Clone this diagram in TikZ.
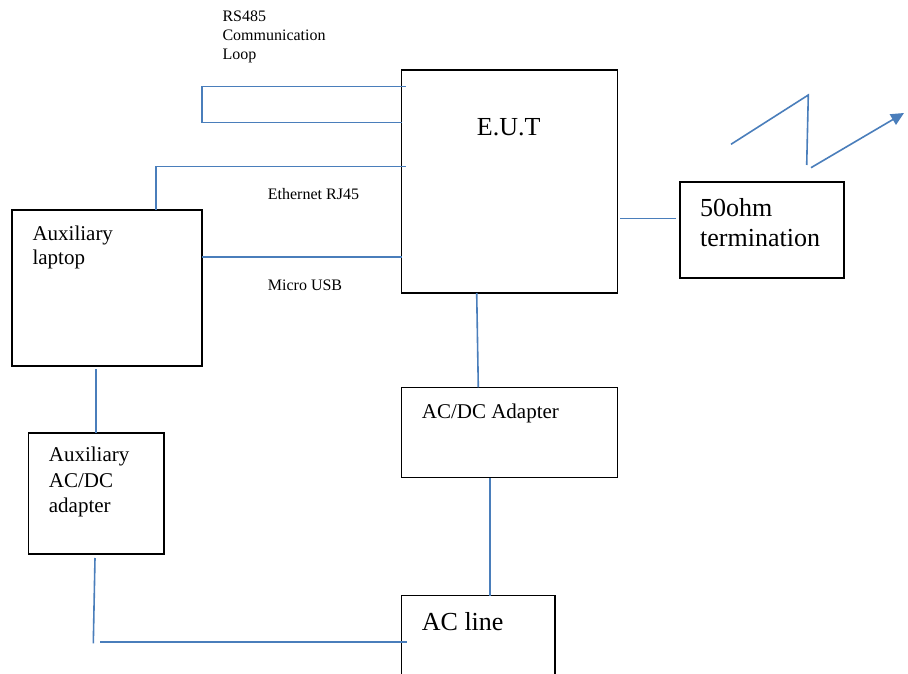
\documentclass[tikz,border=0pt]{standalone}
\usepackage{fontspec}
\setmainfont{Liberation Serif}
\usetikzlibrary{arrows.meta,calc}
\definecolor{wireblue}{HTML}{4A7EBB}
\begin{document}
\begin{tikzpicture}[x=1pt,y=-1pt,
  box/.style={draw=black, line width=1.1pt, anchor=north west, inner sep=0pt, outer sep=0pt},
  openbox/.style={anchor=north west, inner sep=0pt, outer sep=0pt},
  boxline/.style={draw=black, line width=1.1pt},
  wire/.style={draw=wireblue, line width=1.6pt},
  txtS/.style={inner sep=0pt, anchor=base west, font=\fontsize{16}{19}\selectfont},
  txtM/.style={inner sep=0pt, anchor=base west, font=\fontsize{21}{25}\selectfont},
  txtL/.style={inner sep=0pt, anchor=base west, font=\fontsize{26}{30}\selectfont}]
\useasboundingbox[fill=white] (0,0) rectangle (908,674);

% boxes
\node[box, minimum width=216pt, minimum height=223pt] (eut) at (401.5,70) {};
\node[box, minimum width=164pt, minimum height=96pt] (term) at (680,182) {};
\node[box, minimum width=190pt, minimum height=156pt] (lap) at (12,210) {};
\node[box, minimum width=135.5pt, minimum height=121pt] (aux) at (28.5,433) {};
\node[box, minimum width=216pt, minimum height=90.5pt] (acdc) at (401.5,387.3) {};
\node[openbox, minimum width=153.5pt, minimum height=80pt] (acl) at (401.5,595.7) {};
\draw[boxline] (acl.south west) -- (acl.north west) -- (acl.north east) -- (acl.south east);

% texts
\node[txtS] (rs1) at (222.3,21.7) {RS485};
\node[txtS] (rs2) at (222.3,40.5) {Communication};
\node[txtS] (rs3) at (222.3,59.3) {Loop};
\node[txtS] (eth) at (267.7,199.3) {Ethernet RJ45};
\node[txtS] (usb) at (267.7,290) {Micro USB};
\node[txtL] (eutt) at (476.7,136) {E.U.T};
\node[txtL] (term1) at (700,216.7) {50ohm};
\node[txtL] (term2) at (700,246.7) {termination};
\node[txtM] (lap1) at (32.3,240.7) {Auxiliary};
\node[txtM] (lap2) at (32.3,264) {laptop};
\node[txtM] (aux1) at (48.7,461.7) {Auxiliary};
\node[txtM] (aux2) at (48.7,487.3) {AC/DC};
\node[txtM] (aux3) at (48.7,512.7) {adapter};
\node[txtM] (acdct) at (421.7,418.3) {AC/DC Adapter};
\node[txtL] (aclt) at (421.7,630.7) {AC line};

% connectors
\draw[wire] ([xshift=4.2pt,yshift=-16.7pt]eut.north west)
  -| ([xshift=-199.8pt,yshift=-52.7pt]eut.north west)
  -- ([yshift=-52.7pt]eut.north west);
\draw[wire] ([xshift=4.2pt,yshift=-96.7pt]eut.north west) -| ([xshift=144pt]lap.north west);
\draw[wire] ([yshift=-46.7pt]lap.north east) coordinate (usbA) -- (usbA -| eut.west);
\draw[wire] ([xshift=2.5pt,yshift=-148.3pt]eut.north east) coordinate (rfA)
  -- ([xshift=-4pt]rfA -| term.west);
\draw[wire] ([xshift=75.2pt]eut.south west) -- ([xshift=76.8pt]acdc.north west);
\draw[wire] ([xshift=88.4pt]acdc.south west) -- ([xshift=88.4pt]acl.north west);
\draw[wire] ([xshift=84.2pt,yshift=-3.3pt]lap.south west) -- ([xshift=67.7pt]aux.north west);
\draw[wire] ([xshift=66.5pt,yshift=-4pt]aux.south west) coordinate (pwA) -- ++(-1.7,85.3);
\draw[wire] ([xshift=71.5pt,yshift=-87.7pt]aux.south west) coordinate (pwB)
  -- ([xshift=5.2pt]pwB -| acl.west);

% antenna
\coordinate (an1) at (731,144.3);
\coordinate (an2) at (808.3,95);
\coordinate (an3) at (806.7,165);
\coordinate (an4) at (811,167.7);
\coordinate (an5) at (904,113);
\draw[wire] (an1) -- (an2) -- (an3);
\draw[wire, -{Triangle[length=13pt,width=12pt]}] (an4) -- (an5);
\end{tikzpicture}
\end{document}
